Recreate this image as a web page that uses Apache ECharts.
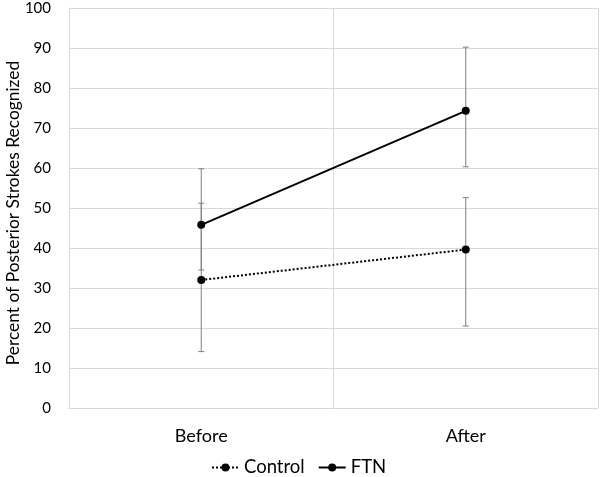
<!DOCTYPE html>
<html>
<head>
<meta charset="utf-8">
<script src="https://cdn.jsdelivr.net/npm/echarts@6/dist/echarts.min.js"></script>
<style>
  html, body { margin: 0; padding: 0; background: #fff; }
  #chart { width: 600px; height: 477px; }
</style>
</head>
<body>
<div id="chart"></div>
<script>
// data
const categories = ['Before', 'After'];
const controlMean = [32, 39.6];
const controlLow = [14.1, 20.5];
const controlHigh = [51.2, 52.6];
const ftnMean = [45.8, 74.3];
const ftnLow = [34.5, 60.3];
const ftnHigh = [59.8, 90.2];
const yTitle = 'Percent of Posterior Strokes Recognized';

const fontFamily = 'Lato, "Open Sans", sans-serif';

// one error-bar row per point: [category index, low, high]
const errorRows = (low, high) => low.map((v, i) => [i, v, high[i]]);

const renderErrorBar = (params, api) => {
  let lo = api.coord([api.value(0), api.value(1)]);
  let hi = api.coord([api.value(0), api.value(2)]);
  let cap = 3;
  let style = { stroke: '#7f7f7f', lineWidth: 1 };
  return {
    type: 'group',
    children: [
      { type: 'line', shape: { x1: lo[0], y1: lo[1], x2: hi[0], y2: hi[1] }, style },
      { type: 'line', shape: { x1: hi[0] - cap, y1: hi[1], x2: hi[0] + cap, y2: hi[1] }, style },
      { type: 'line', shape: { x1: lo[0] - cap, y1: lo[1], x2: lo[0] + cap, y2: lo[1] }, style }
    ]
  };
};

let myChart = echarts.init(document.getElementById('chart'));
let option = {
  animation: false,
  textStyle: { fontFamily: fontFamily, color: '#000' },
  grid: { left: 69, right: 2, top: 8, bottom: 69, outerBoundsMode: 'none' },
  // y axis title, placed by hand like the original
  graphic: [
    {
      type: 'text',
      x: 13,
      y: 213,
      rotation: Math.PI / 2,
      silent: true,
      style: {
        text: yTitle,
        fill: '#000',
        font: '17.4px ' + fontFamily,
        align: 'center',
        verticalAlign: 'middle'
      }
    }
  ],
  legend: {
    data: ['Control', 'FTN'],
    left: 206,
    top: 453,
    itemWidth: 27,
    itemHeight: 10,
    itemGap: 13,
    textStyle: { fontSize: 18.5, color: '#000', fontFamily: fontFamily }
  },
  xAxis: {
    type: 'category',
    data: categories,
    boundaryGap: true,
    axisLine: { show: true, lineStyle: { color: '#d9d9d9', width: 1 } },
    axisTick: { show: false },
    splitLine: { show: true, lineStyle: { color: '#d9d9d9', width: 1 } },
    axisLabel: { fontSize: 18, color: '#000', margin: 19, fontFamily: fontFamily }
  },
  yAxis: {
    type: 'value',
    min: 0,
    max: 100,
    interval: 10,
    axisLine: { show: true, lineStyle: { color: '#d9d9d9', width: 1 } },
    axisTick: { show: false },
    splitLine: { show: true, lineStyle: { color: '#d9d9d9', width: 1 } },
    axisLabel: { fontSize: 15, color: '#000', margin: 18, fontFamily: fontFamily }
  },
  series: [
    {
      name: 'Control err',
      type: 'custom',
      renderItem: renderErrorBar,
      data: errorRows(controlLow, controlHigh),
      encode: { x: 0, y: [1, 2] },
      z: 1,
      silent: true
    },
    {
      name: 'FTN err',
      type: 'custom',
      renderItem: renderErrorBar,
      data: errorRows(ftnLow, ftnHigh),
      encode: { x: 0, y: [1, 2] },
      z: 1,
      silent: true
    },
    {
      name: 'Control',
      type: 'line',
      data: controlMean,
      symbol: 'circle',
      symbolSize: 8,
      lineStyle: { color: '#000', width: 2, type: 'dotted' },
      itemStyle: { color: '#000' },
      z: 3
    },
    {
      name: 'FTN',
      type: 'line',
      data: ftnMean,
      symbol: 'circle',
      symbolSize: 8,
      lineStyle: { color: '#000', width: 2 },
      itemStyle: { color: '#000' },
      z: 3
    }
  ]
};
myChart.setOption(option);
</script>
</body>
</html>
